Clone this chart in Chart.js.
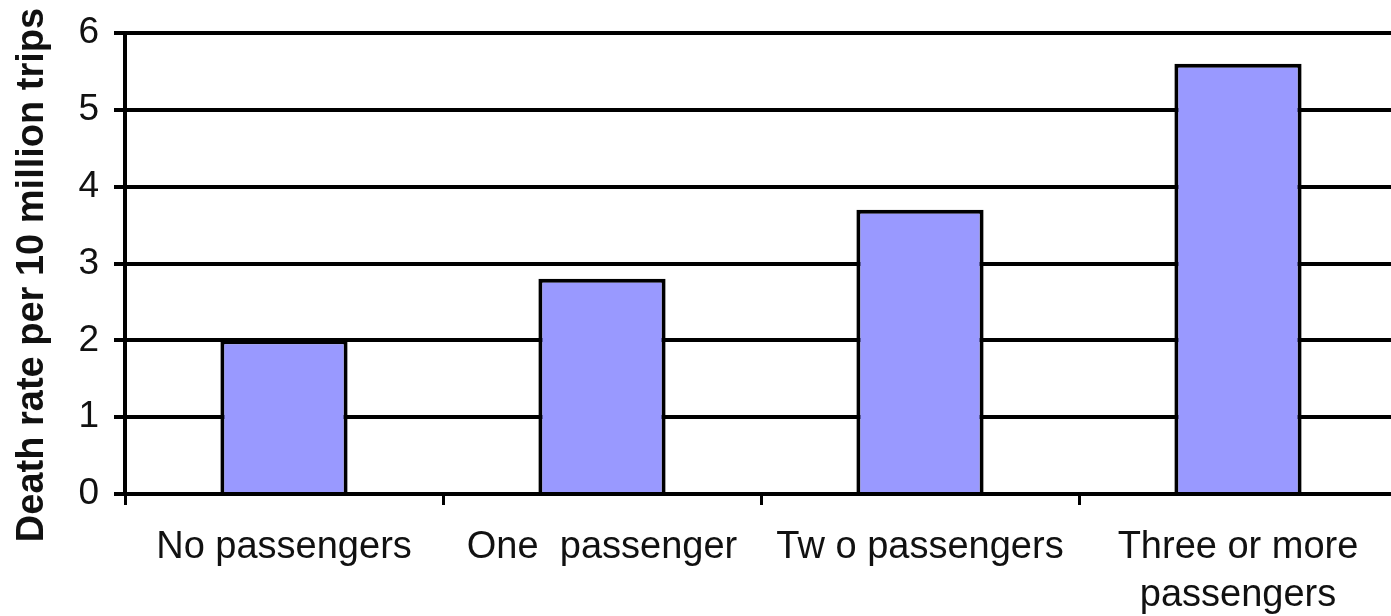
<!DOCTYPE html>
<html>
<head>
<meta charset="utf-8">
<script src="https://cdn.jsdelivr.net/npm/chart.js@4"></script>
<style>
  html, body { margin: 0; padding: 0; background: #fff; overflow: hidden; }
  #wrap { width: 1400px; height: 616px; }
</style>
</head>
<body>
<div id="wrap"><canvas id="myChart" width="1400" height="616"></canvas></div>
<script>
// Chart data
const categories = ['No passengers', 'One  passenger', 'Tw o passengers', ['Three or more', 'passengers']];
const deathRates = [2.0, 2.8, 3.7, 5.6];
const yTicks = [0, 1, 2, 3, 4, 5, 6];
const yTitle = 'Death rate per 10 million trips';

const textColor = '#111';

// Rotated axis title, drawn by hand so it can sit off-centre
const yTitlePlugin = {
  id: 'yTitle',
  afterDraw(chart) {
    const ctx = chart.ctx;
    ctx.save();
    ctx.translate(43, 275);
    ctx.rotate(-Math.PI / 2);
    ctx.font = 'bold 38px "Liberation Sans", Arial, sans-serif';
    ctx.fillStyle = textColor;
    ctx.textAlign = 'center';
    ctx.textBaseline = 'alphabetic';
    ctx.fillText(yTitle, 0, 0);
    ctx.restore();
  }
};

let ctx = document.getElementById('myChart').getContext('2d');

new Chart(ctx, {
  type: 'bar',
  data: {
    labels: categories,
    datasets: [
      {
        data: deathRates,
        backgroundColor: '#9999ff',
        borderColor: '#000',
        borderWidth: 4,
        barPercentage: 0.4,
        categoryPercentage: 1.0,
      },
    ],
  },
  options: {
    responsive: false,
    animation: false,
    layout: {
      padding: { left: 0, top: 33, right: 3, bottom: 0 },
    },
    scales: {
      x: {
        grid: {
          offset: true,
          drawOnChartArea: false,
          color: '#000',
          lineWidth: 3,
          tickLength: 11,
        },
        border: { display: true, color: '#000', width: 4 },
        ticks: {
          color: textColor,
          padding: 19,
          maxRotation: 0,
          autoSkip: false,
          font: { family: '"Liberation Sans", Arial, sans-serif', size: 38, lineHeight: 1.25 },
        },
        afterFit(scale) {
          scale.height = 122;
          scale.paddingLeft = 0;
          scale.paddingRight = 0;
        },
      },
      y: {
        min: 0,
        max: 6,
        afterBuildTicks(scale) {
          scale.ticks = yTicks.map(v => ({ value: v }));
        },
        grid: {
          color: '#000',
          lineWidth: 4,
          tickLength: 11,
        },
        border: { display: true, color: '#000', width: 4 },
        ticks: {
          color: textColor,
          padding: 15,
          font: { family: '"Liberation Sans", Arial, sans-serif', size: 37 },
        },
        afterFit(scale) {
          scale.width = 125;
          scale.paddingTop = 0;
          scale.paddingBottom = 0;
        },
      },
    },
    plugins: {
      legend: { display: false },
      tooltip: { enabled: false },
    },
  },
  plugins: [yTitlePlugin],
});
</script>
</body>
</html>
